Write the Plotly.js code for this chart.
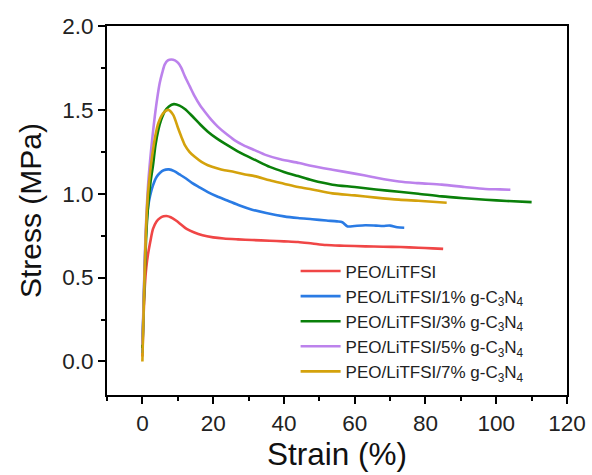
<!DOCTYPE html>
<html>
<head>
<meta charset="utf-8">
<script src="https://cdn.plot.ly/plotly-3.0.1.min.js"></script>
<style>html,body{margin:0;padding:0;background:#fff;}#chart{width:592px;height:475px;}</style>
</head>
<body>
<div id="chart"></div>
<script>
const seriesNames = [
  "PEO/LiTFSI",
  "PEO/LiTFSI/1% g-C<sub>3</sub>N<sub>4</sub>",
  "PEO/LiTFSI/3% g-C<sub>3</sub>N<sub>4</sub>",
  "PEO/LiTFSI/5% g-C<sub>3</sub>N<sub>4</sub>",
  "PEO/LiTFSI/7% g-C<sub>3</sub>N<sub>4</sub>"
];
const seriesColors = ["#F04646", "#2A7BE4", "#0A800A", "#BC82EC", "#D4A20C"];

const strain0 = [0, 0.3, 0.7, 1.1, 1.6, 2.2, 3.0, 4.0, 5.0, 6.0, 6.8, 8.0, 9.5, 11, 12.5, 14.5, 17, 20, 23, 27, 31, 36, 40, 44, 48, 52, 57, 63, 68, 73, 78, 82, 85];
const stress0 = [0.03, 0.25, 0.45, 0.56, 0.64, 0.71, 0.79, 0.835, 0.855, 0.865, 0.867, 0.86, 0.84, 0.815, 0.79, 0.77, 0.752, 0.74, 0.733, 0.728, 0.724, 0.72, 0.716, 0.712, 0.703, 0.694, 0.69, 0.686, 0.684, 0.682, 0.678, 0.674, 0.671];

const strain1 = [0, 0.3, 0.7, 1.1, 1.6, 2.2, 3.0, 4.0, 5.0, 6.0, 7.5, 9, 10.5, 12, 14, 16, 18.5, 21, 24, 27.5, 31, 35, 40, 44, 48, 52, 55, 56.5, 58, 60, 63, 66, 68, 70, 72, 74];
const stress1 = [0.05, 0.3, 0.6, 0.8, 0.92, 0.99, 1.05, 1.1, 1.125, 1.14, 1.145, 1.135, 1.115, 1.095, 1.065, 1.04, 1.01, 0.985, 0.96, 0.93, 0.905, 0.885, 0.865, 0.855, 0.848, 0.84, 0.835, 0.83, 0.805, 0.808, 0.812, 0.81, 0.808, 0.81, 0.8, 0.797];

const strain3 = [0, 0.4, 0.8, 1.2, 1.7, 2.3, 3.0, 3.7, 4.5, 5.3, 6.3, 7.5, 8.9, 10.5, 12, 14, 16.5, 18.5, 21, 23.2, 26, 29, 32, 36, 40, 44, 48, 53.7, 60, 66, 72.5, 78, 84.6, 91, 97, 103, 110];
const stress3 = [0.08, 0.35, 0.6, 0.8, 0.95, 1.07, 1.17, 1.29, 1.38, 1.44, 1.49, 1.52, 1.534, 1.525, 1.505, 1.465, 1.41, 1.37, 1.33, 1.30, 1.265, 1.23, 1.2, 1.16, 1.13, 1.105, 1.08, 1.054, 1.04, 1.025, 1.012, 1.0, 0.984, 0.973, 0.964, 0.957, 0.95];

const strain5 = [0, 0.4, 0.8, 1.2, 1.6, 2.1, 2.8, 3.5, 4.2, 4.9, 5.6, 6.3, 7.2, 8.2, 9.2, 10.1, 11, 12, 13.4, 14.8, 16.2, 17.6, 19.5, 21.3, 23.5, 26, 28.5, 31.7, 35, 39, 44.3, 48, 53.7, 60, 65, 72.5, 78, 84.6, 91, 96.9, 101, 104];
const stress5 = [0.1, 0.4, 0.7, 0.9, 1.05, 1.18, 1.33, 1.46, 1.57, 1.66, 1.72, 1.77, 1.795, 1.80, 1.795, 1.78, 1.75, 1.70, 1.64, 1.58, 1.53, 1.49, 1.44, 1.40, 1.36, 1.32, 1.29, 1.26, 1.23, 1.205, 1.183, 1.165, 1.143, 1.12, 1.10, 1.073, 1.063, 1.054, 1.04, 1.028, 1.026, 1.024];

const strain7 = [0, 0.4, 0.8, 1.2, 1.7, 2.3, 3.0, 3.7, 4.5, 5.9, 7.3, 8.7, 10.1, 11, 12, 13.3, 14.8, 16.7, 18.5, 21.3, 23.2, 26, 29, 31.7, 36, 40, 44, 48, 53.7, 60, 66, 72.5, 78, 82, 86];
const stress7 = [0.0, 0.35, 0.65, 0.87, 1.03, 1.15, 1.26, 1.35, 1.42, 1.48, 1.50, 1.47, 1.39, 1.34, 1.29, 1.25, 1.22, 1.19, 1.17, 1.15, 1.14, 1.13, 1.115, 1.105, 1.08, 1.06, 1.04, 1.025, 1.002, 0.99, 0.977, 0.965, 0.958, 0.952, 0.946];

const xTickVals = [0, 20, 40, 60, 80, 100, 120];
const yTickVals = [0.0, 0.5, 1.0, 1.5, 2.0];
const yTickText = ["0.0", "0.5", "1.0", "1.5", "2.0"];

const xs = [strain0, strain1, strain3, strain5, strain7];
const ys = [stress0, stress1, stress3, stress5, stress7];

const traces = xs.map((x, i) => ({
  x: x, y: ys[i], type: "scatter", mode: "lines", name: seriesNames[i],
  line: {color: seriesColors[i], width: 2.6, shape: "spline", smoothing: 0.8}
}));

const FONT = "Arial, 'Liberation Sans', sans-serif";
const axisCommon = {
  showline: true, linecolor: "#000", linewidth: 2, mirror: true,
  ticks: "outside", ticklen: 7, tickwidth: 2, tickcolor: "#000",
  showgrid: false, zeroline: false,
  tickfont: {family: FONT, size: 22.5, color: "#222"}
};

const layout = {
  width: 592, height: 475,
  margin: {l: 107, r: 25, t: 26, b: 80},
  paper_bgcolor: "#fff", plot_bgcolor: "#fff",
  showlegend: true,
  legend: {x: 0.41, xanchor: "left", y: 0.015, yanchor: "bottom",
           font: {family: FONT, size: 17, color: "#222"}, bgcolor: "rgba(0,0,0,0)",
           tracegroupgap: 0, itemwidth: 40},
  xaxis: Object.assign({}, axisCommon, {
    range: [-10, 120], tickvals: xTickVals,
    minor: {dtick: 10, tick0: 0, ticks: "outside", ticklen: 4, tickwidth: 2, tickcolor: "#000"},
    title: {text: "Strain (%)", font: {family: FONT, size: 31.5, color: "#111"}, standoff: 8}
  }),
  yaxis: Object.assign({}, axisCommon, {
    range: [-0.2, 2.0], tickvals: yTickVals, ticktext: yTickText,
    minor: {dtick: 0.25, tick0: 0, ticks: "outside", ticklen: 4, tickwidth: 2, tickcolor: "#000"},
    title: {text: "Stress (MPa)", font: {family: FONT, size: 30, color: "#111"}, standoff: 12}
  })
};

Plotly.newPlot("chart", traces, layout, {displayModeBar: false, staticPlot: true});
</script>
</body>
</html>
